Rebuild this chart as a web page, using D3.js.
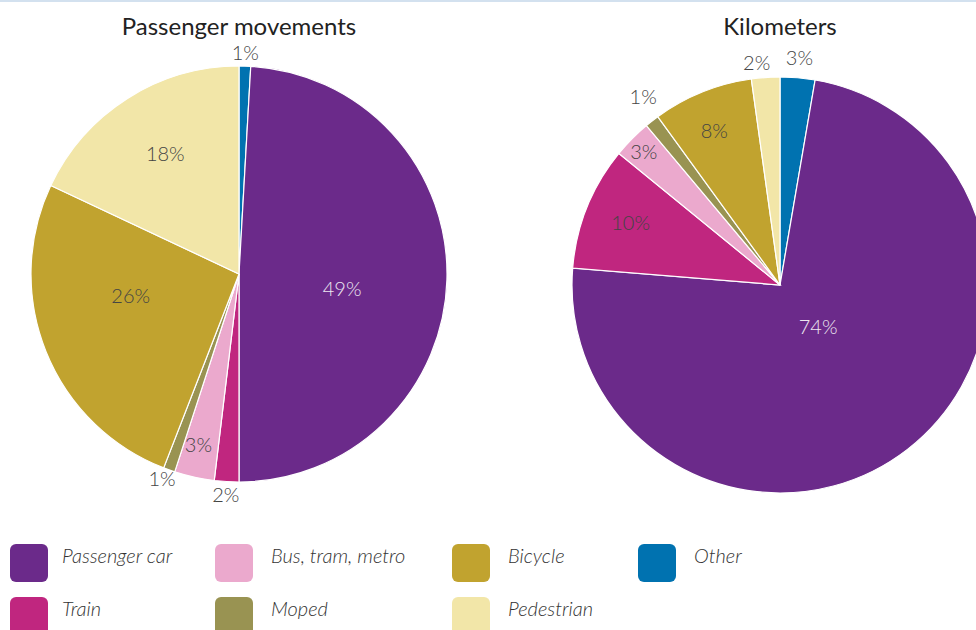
<!DOCTYPE html>
<html>
<head>
<meta charset="utf-8">
<script src="https://cdn.jsdelivr.net/npm/d3@7"></script>
<style>
  body { margin: 0; background: #fff; }
  svg { display: block; }
</style>
</head>
<body>
<div id="chart"></div>
<script>
const categories = ["Other", "Passenger car", "Train", "Bus, tram, metro", "Moped", "Bicycle", "Pedestrian"];
const colors = ["#0072b0", "#6b2a8a", "#c0267f", "#eba9cd", "#999352", "#c1a32f", "#f2e6a8"];
const movementValues = [0.9, 49.1, 1.9, 3.1, 0.9, 26.1, 18.0];
const kilometerValues = [2.7, 73.6, 9.6, 3.0, 1.1, 7.8, 2.2];
const titles = ["Passenger movements", "Kilometers"];

// legend order as in the picture (column by column)
const legendOrder = ["Passenger car", "Train", "Bus, tram, metro", "Moped", "Bicycle", "Pedestrian", "Other"];

const width = 976, height = 630;
const R = 208;

// label placement: radius factor and angle nudge (degrees) per slice
const movementLabels = [[1.07, 0], [0.50, 6], [1.06, 0], [0.84, 1], [1.05, 1], [0.53, 11], [0.68, 1]];
const kilometerLabels = [[1.10, 0], [0.27, -5], [0.78, 1], [0.92, 0], [1.12, 2], [0.81, -1], [1.08, -2]];

const svg = d3.select("#chart").append("svg")
  .attr("width", width)
  .attr("height", height);

svg.append("rect")
  .attr("x", 0).attr("y", 0)
  .attr("width", width).attr("height", 2)
  .attr("fill", "#d3e1ef");

const pie = d3.pie().sort(null).value(d => d);
const arc = d3.arc().innerRadius(0).outerRadius(R);

function drawPie(values, labels, cx, cy, title) {
  const g = svg.append("g").attr("transform", `translate(${cx},${cy})`);
  const arcs = pie(values);

  g.selectAll("path")
    .data(arcs)
    .join("path")
    .attr("d", arc)
    .attr("fill", (d, i) => colors[i])
    .attr("stroke", "#fff")
    .attr("stroke-width", 1.2);

  g.selectAll("text.lbl")
    .data(arcs)
    .join("text")
    .attr("class", "lbl")
    .attr("transform", (d, i) => {
      const a = (d.startAngle + d.endAngle) / 2 + labels[i][1] * Math.PI / 180;
      const r = labels[i][0] * R;
      return `translate(${r * Math.sin(a)},${-r * Math.cos(a)})`;
    })
    .attr("text-anchor", "middle")
    .attr("dominant-baseline", "central")
    .style("font-family", "Lato, 'Open Sans', sans-serif")
    .style("font-weight", 300)
    .style("font-size", "20px")
    .attr("fill", (d, i) => i === 1 ? "#ece6f0" : "#444")
    .text(d => Math.round(d.value) + "%");

  svg.append("text")
    .attr("x", cx)
    .attr("y", 35)
    .attr("text-anchor", "middle")
    .style("font-family", "Lato, 'Open Sans', sans-serif")
    .style("font-size", "24px")
    .attr("fill", "#222")
    .text(title);
}

drawPie(movementValues, movementLabels, 239, 274, titles[0]);
drawPie(kilometerValues, kilometerLabels, 780, 285, titles[1]);

// legend
const colX = [10, 215, 452, 638];
const rowY = [544, 597];
const legend = svg.append("g");
legendOrder.forEach((name, k) => {
  const i = categories.indexOf(name);
  const col = Math.floor(k / 2), row = k % 2;
  const item = legend.append("g")
    .attr("transform", `translate(${colX[col]},${rowY[row]})`);
  item.append("rect")
    .attr("width", 38).attr("height", 38)
    .attr("rx", 6)
    .attr("fill", colors[i]);
  item.append("text")
    .attr("x", col === 0 ? 52 : 56)
    .attr("y", 11)
    .attr("dominant-baseline", "central")
    .style("font-family", "Lato, 'Open Sans', sans-serif")
    .style("font-style", "italic")
    .style("font-weight", 300)
    .style("font-size", "20px")
    .attr("fill", "#333")
    .text(name);
});
</script>
</body>
</html>
